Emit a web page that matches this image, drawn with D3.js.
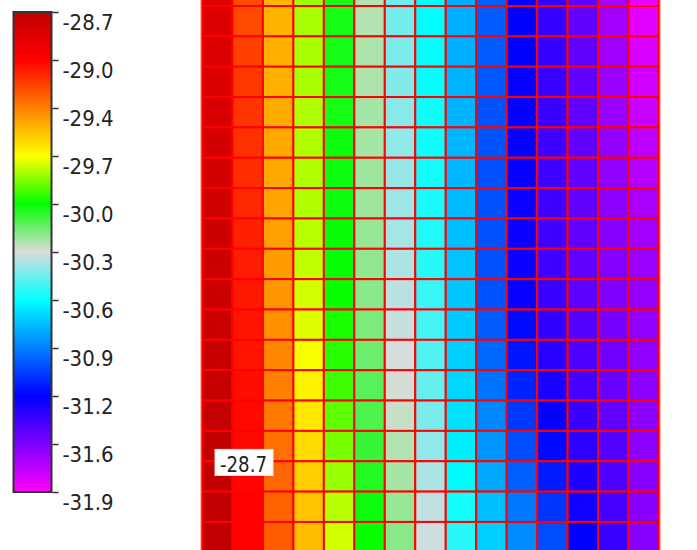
<!DOCTYPE html>
<html><head><meta charset="utf-8">
<script src="https://cdn.jsdelivr.net/npm/d3@7"></script>
<style>html,body{margin:0;padding:0;background:#fff;overflow:hidden}</style>
</head><body><svg id="chart" width="697" height="550"></svg>
<script>
// ---- data ----
const tickLabels = ["-28.7","-29.0","-29.4","-29.7","-30.0","-30.3","-30.6","-30.9","-31.2","-31.6","-31.9"];
const valueMax = -28.7, valueMin = -31.9;
const colorStopValues = [-28.7, -29.02, -29.34, -29.66, -29.98, -30.3, -30.62, -31.26, -31.9];
const colorStopColors = ["#c00000","#ff0000","#ff8000","#ffff00","#00ff00","#dcdcdc","#00ffff","#0000ff","#ff00ff"];
// one array per grid column, top row to bottom row
const col01 = [-28.86,-28.85,-28.84,-28.83,-28.81,-28.80,-28.79,-28.78,-28.76,-28.76,-28.75,-28.74,-28.73,-28.73,-28.72,-28.71,-28.71,-28.70,-28.70];
const col02 = [-29.21,-29.20,-29.18,-29.16,-29.15,-29.14,-29.13,-29.12,-29.10,-29.09,-29.08,-29.07,-29.07,-29.05,-29.04,-29.04,-29.03,-29.02,-29.02];
const col03 = [-29.47,-29.47,-29.46,-29.46,-29.45,-29.44,-29.44,-29.43,-29.42,-29.41,-29.40,-29.38,-29.36,-29.34,-29.32,-29.30,-29.28,-29.27,-29.25];
const col04 = [-29.78,-29.77,-29.77,-29.77,-29.76,-29.76,-29.76,-29.76,-29.75,-29.74,-29.72,-29.70,-29.67,-29.63,-29.60,-29.57,-29.54,-29.51,-29.49];
const col05 = [-30.02,-30.01,-30.01,-30.01,-30.01,-30.00,-30.00,-30.00,-29.99,-29.99,-29.97,-29.95,-29.93,-29.90,-29.86,-29.83,-29.79,-29.75,-29.72];
const col06 = [-30.24,-30.24,-30.23,-30.23,-30.22,-30.22,-30.21,-30.21,-30.20,-30.19,-30.18,-30.16,-30.14,-30.11,-30.09,-30.06,-30.03,-30.00,-29.97];
const col07 = [-30.46,-30.45,-30.44,-30.43,-30.42,-30.41,-30.40,-30.39,-30.38,-30.37,-30.35,-30.33,-30.31,-30.29,-30.27,-30.24,-30.22,-30.20,-30.18];
const col08 = [-30.62,-30.62,-30.61,-30.61,-30.60,-30.60,-30.59,-30.58,-30.57,-30.56,-30.54,-30.52,-30.50,-30.47,-30.44,-30.41,-30.37,-30.34,-30.32];
const col09 = [-30.82,-30.82,-30.82,-30.81,-30.81,-30.80,-30.80,-30.79,-30.78,-30.77,-30.76,-30.75,-30.74,-30.72,-30.69,-30.66,-30.63,-30.59,-30.56];
const col10 = [-31.02,-31.03,-31.03,-31.04,-31.05,-31.05,-31.06,-31.06,-31.06,-31.06,-31.05,-31.03,-31.00,-30.97,-30.92,-30.88,-30.83,-30.78,-30.74];
const col11 = [-31.26,-31.26,-31.26,-31.27,-31.27,-31.27,-31.28,-31.29,-31.29,-31.29,-31.27,-31.24,-31.21,-31.17,-31.12,-31.07,-31.02,-30.96,-30.91];
const col12 = [-31.38,-31.39,-31.39,-31.40,-31.40,-31.41,-31.41,-31.42,-31.42,-31.42,-31.40,-31.38,-31.36,-31.32,-31.28,-31.24,-31.19,-31.13,-31.07];
const col13 = [-31.50,-31.50,-31.50,-31.50,-31.50,-31.50,-31.50,-31.50,-31.50,-31.50,-31.49,-31.47,-31.45,-31.43,-31.40,-31.37,-31.33,-31.30,-31.26];
const col14 = [-31.68,-31.67,-31.66,-31.65,-31.64,-31.63,-31.62,-31.61,-31.60,-31.59,-31.58,-31.56,-31.54,-31.52,-31.50,-31.47,-31.45,-31.43,-31.40];
const col15 = [-31.85,-31.83,-31.80,-31.78,-31.76,-31.73,-31.71,-31.69,-31.67,-31.65,-31.63,-31.62,-31.62,-31.61,-31.61,-31.61,-31.60,-31.60,-31.60];
const gridColumns = [col01,col02,col03,col04,col05,col06,col07,col08,col09,col10,col11,col12,col13,col14,col15];
const hoverCell = {col: 0, row: 15, label: "-28.7"};

// ---- drawing ----
const svg = d3.select("#chart");
const FONT = "'DejaVu Sans Condensed','Liberation Sans Narrow','DejaVu Sans',sans-serif";

const color = d3.scaleLinear().domain(colorStopValues).range(colorStopColors).interpolate(d3.interpolateRgb).clamp(true);

const nCols = gridColumns.length, nRows = col01.length;
const x = d3.scaleLinear().domain([0, nCols]).range([202, 659]);
const y = d3.scaleLinear().domain([0, nRows]).range([-24.35, 552.3]);

const cells = [];
gridColumns.forEach((col, ci) => col.forEach((v, ri) => cells.push({ci, ri, v})));

const grid = svg.append("g");
grid.selectAll("rect").data(cells).join("rect")
  .attr("x", d => x(d.ci)).attr("y", d => y(d.ri))
  .attr("width", d => x(d.ci + 1) - x(d.ci)).attr("height", d => y(d.ri + 1) - y(d.ri))
  .attr("fill", d => color(d.v))
  .attr("stroke", "#ff0000").attr("stroke-width", 2);
grid.append("rect")
  .attr("x", x(0) - 1).attr("y", -10).attr("width", x(nCols) - x(0) + 2).attr("height", 600)
  .attr("fill", "none").attr("stroke", "#ff7070").attr("stroke-width", 1);

// colour bar
const cb = d3.scaleLinear().domain([valueMax, valueMin]).range([12, 492]);
const defs = svg.append("defs");
const grad = defs.append("linearGradient").attr("id", "cbgrad")
  .attr("x1", 0).attr("y1", 0).attr("x2", 0).attr("y2", 1);
grad.selectAll("stop").data(colorStopValues).join("stop")
  .attr("offset", d => (cb(d) - 12) / 480)
  .attr("stop-color", d => color(d));
svg.append("rect").attr("x", 13.5).attr("y", 12).attr("width", 38).attr("height", 480)
  .attr("fill", "url(#cbgrad)").attr("stroke", "#333").attr("stroke-width", 2);

const tickVals = d3.range(tickLabels.length).map(i => valueMax + (valueMin - valueMax) * i / (tickLabels.length - 1));
const axis = d3.axisRight(cb).tickValues(tickVals).tickSize(6).tickPadding(10)
  .tickFormat((d, i) => tickLabels[i]);
const ag = svg.append("g").attr("transform", "translate(52.5,0)").call(axis);
ag.select(".domain").remove();
ag.selectAll(".tick line").attr("stroke", "#333").attr("stroke-width", 1.5);
ag.selectAll(".tick text")
  .attr("font-family", FONT).attr("font-size", 22).attr("fill", "#222")
  .attr("dy", 0).attr("y", 17).attr("x", 10)
  .attr("textLength", 51).attr("lengthAdjust", "spacingAndGlyphs");

// hover label
const hx = x(hoverCell.col) + 13, hy = y(hoverCell.ri === undefined ? hoverCell.row : hoverCell.row) + 18.5;
const hg = svg.append("g");
hg.append("rect").attr("x", hx).attr("y", hy).attr("width", 58).attr("height", 26)
  .attr("fill", "#fff").attr("stroke", "#e8e8e8").attr("stroke-width", 1);
hg.append("text").attr("x", hx + 5).attr("y", hy + 23)
  .attr("font-family", FONT).attr("font-size", 22).attr("fill", "#222")
  .attr("textLength", 47).attr("lengthAdjust", "spacingAndGlyphs")
  .text(hoverCell.label);
</script></body></html>
